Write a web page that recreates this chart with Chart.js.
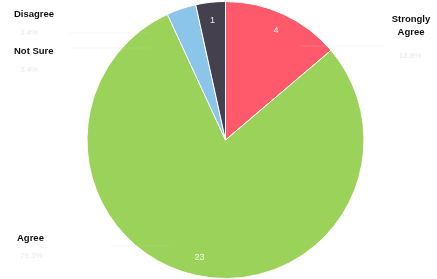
<!DOCTYPE html>
<html>
<head>
<meta charset="utf-8">
<script src="https://cdn.jsdelivr.net/npm/chart.js@4/dist/chart.umd.min.js"></script>
<style>
html,body{margin:0;padding:0;background:#fff;}
#wrap{width:437px;height:279px;position:relative;}
</style>
</head>
<body>
<div id="wrap"><canvas id="c" width="437" height="279"></canvas></div>
<script>
const categories = ["Strongly Agree", "Agree", "Not Sure", "Disagree"];
const counts = [4, 23, 1, 1];
const percentLabels = ["13.8%", "79.3%", "3.4%", "3.4%"];
const colors = ["#FF5A6C", "#9BD35A", "#8CC5EA", "#45404D"];

// outer label placement (layout only)
const outerLabels = [
  {lines:["Strongly","Agree"], x:411, y:19, align:"center", px:410, py:56, lx1:300, ly1:46, lx2:385, ly2:46},
  {lines:["Agree"], x:17, y:238, align:"left", px:20, py:256, lx1:110, ly1:246, lx2:170, ly2:246},
  {lines:["Not Sure"], x:14, y:51, align:"left", px:20, py:70, lx1:70, ly1:48, lx2:150, ly2:48},
  {lines:["Disagree"], x:14, y:14, align:"left", px:20, py:33, lx1:70, ly1:33, lx2:150, ly2:33}
];
const showInner = [true, true, false, true];

const labelPlugin = {
  id: "labelPlugin",
  afterDatasetsDraw(chart) {
    const ctx = chart.ctx;
    const meta = chart.getDatasetMeta(0);
    ctx.save();
    meta.data.forEach((arc, i) => {
      if (!showInner[i]) return;
      const p = arc.getProps(["x","y","startAngle","endAngle","outerRadius"], true);
      const mid = (p.startAngle + p.endAngle) / 2;
      const r = p.outerRadius * 0.87;
      ctx.fillStyle = "rgba(255,255,255,0.9)";
      ctx.font = "9px 'Liberation Sans', Arial, sans-serif";
      ctx.textAlign = "center";
      ctx.textBaseline = "middle";
      ctx.fillText(String(counts[i]), p.x + Math.cos(mid) * r, p.y + Math.sin(mid) * r);
    });
    outerLabels.forEach((o, i) => {
      ctx.strokeStyle = "rgba(210,210,215,0.2)";
      ctx.lineWidth = 1;
      ctx.beginPath();
      ctx.moveTo(o.lx1, o.ly1);
      ctx.lineTo(o.lx2, o.ly2);
      ctx.stroke();
      ctx.fillStyle = "#111";
      ctx.font = "bold 9.5px 'Liberation Sans', Arial, sans-serif";
      ctx.textAlign = o.align;
      ctx.textBaseline = "middle";
      o.lines.forEach((t, k) => ctx.fillText(t, o.x, o.y + k * 13));
      ctx.fillStyle = "rgba(225,205,210,0.55)";
      ctx.font = "8px 'Liberation Sans', Arial, sans-serif";
      ctx.fillText(percentLabels[i], o.px, o.py);
    });
    ctx.restore();
  }
};

new Chart(document.getElementById("c"), {
  type: "pie",
  data: {
    labels: categories,
    datasets: [{
      data: counts,
      backgroundColor: colors,
      borderColor: "#ffffff",
      borderWidth: 1
    }]
  },
  options: {
    responsive: false,
    animation: false,
    layout: { padding: { left: 14, top: 1, bottom: 0, right: 0 } },
    plugins: {
      legend: { display: false },
      tooltip: { enabled: false },
      title: { display: false }
    }
  },
  plugins: [labelPlugin]
});
</script>
</body>
</html>
